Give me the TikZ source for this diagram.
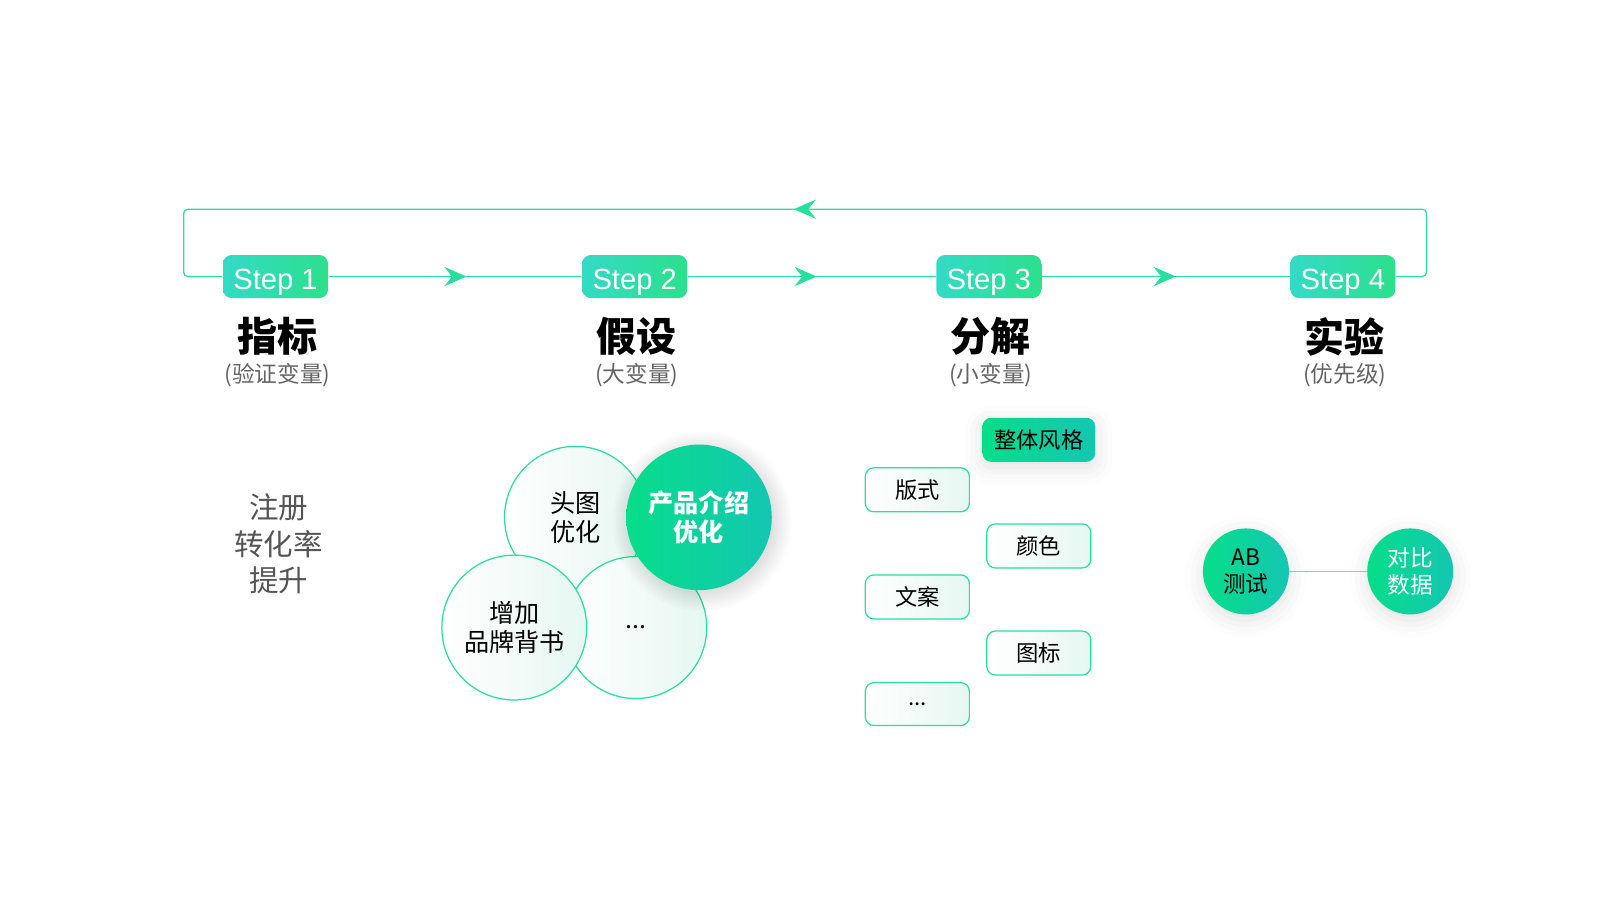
\documentclass[tikz,border=0pt]{standalone}
\usepackage{fontspec}
\setmainfont{Noto Sans CJK SC}
\newfontfamily\stepfont{Liberation Sans}
\usetikzlibrary{arrows.meta, decorations.markings, shadows.blur}

\definecolor{flowgreen}{RGB}{38,224,158}
\definecolor{stepteal}{RGB}{52,218,198}
\definecolor{stepgreen}{RGB}{44,224,140}
\definecolor{fillgreen}{RGB}{6,222,138}
\definecolor{fillteal}{RGB}{20,198,178}
\definecolor{paleteal}{RGB}{230,247,241}
\definecolor{subgray}{RGB}{100,100,100}
\definecolor{goalgray}{RGB}{85,85,85}

\tikzset{
    softshadow/.style={blur shadow={shadow xshift=0pt, shadow yshift=-1.5pt,
        shadow blur radius=5pt, shadow opacity=12}},
    midarrow/.style={postaction={decorate}, decoration={markings,
        mark=at position #1 with {\arrow{Stealth[length=6.3pt, width=5.5pt, inset=2.2pt]}}}},
    midarrow/.default=0.54
}

\begin{document}
\begin{tikzpicture}[x=0.10204mm, y=-0.10204mm,
    flow/.style={draw=flowgreen, line width=0.35pt, fill=flowgreen},
    stepbox/.style={rounded corners=2.45pt, minimum width=1.05cm, minimum height=0.43cm,
        left color=stepteal, right color=stepgreen, text=white, inner sep=0pt,
        text height=1.38ex, text depth=0pt,
        font=\stepfont\fontsize{8.3}{9}\selectfont},
    title/.style={font=\bfseries\fontsize{11.4}{13}\selectfont},
    subtitle/.style={text=subgray, font=\fontsize{6.45}{7}\selectfont},
    ocircle/.style={circle, draw=flowgreen, line width=0.35pt, minimum size=1.42cm,
        left color=white, right color=paleteal, align=center,
        font=\fontsize{7.15}{8.2}\selectfont},
    fcircle/.style={circle, minimum size=1.41cm, left color=fillgreen, right color=fillteal,
        text=white, align=center, font=\bfseries\fontsize{7.15}{8.2}\selectfont},
    obox/.style={rounded corners=2.45pt, draw=flowgreen, line width=0.35pt,
        minimum width=1.04cm, minimum height=0.43cm, left color=white, right color=paleteal,
        font=\fontsize{6.35}{7}\selectfont},
    fbox/.style={rounded corners=2.45pt, minimum width=1.04cm, minimum height=0.43cm,
        left color=fillgreen, right color=fillteal, font=\fontsize{6.35}{7}\selectfont, softshadow},
    fdot/.style={circle, minimum size=0.86cm, inner sep=0pt, left color=fillgreen,
        right color=fillteal, align=center, font=\fontsize{6.45}{7.6}\selectfont, softshadow}
]
    \useasboundingbox (0,0) rectangle (1568,882);

    % Steps, titles and subtitles
    \foreach \n/\x/\title/\sub in {1/270/指标/验证变量, 2/622/假设/大变量,
                                   3/969/分解/小变量, 4/1316/实验/优先级} {
        \node[stepbox] (s\n) at (\x, 271) {Step \n};
        \node[title] (t\n) at (\x+2, 330) {\title};
        \node[subtitle] (sub\n) at (\x+2, 368) {(\sub)};
    }

    % Flow between the steps
    \draw[flow, midarrow=0.545] (s1) -- (s2);
    \draw[flow, midarrow=0.52] (s2) -- (s3);
    \draw[flow, midarrow=0.54] (s3) -- (s4);

    % Loop back from step 4 to step 1
    \coordinate (rtop) at (1398, 205);
    \coordinate (ltop) at (180, 205);
    \draw[flow, fill=none, rounded corners=1.2pt, midarrow=0.505] (s4.east) -| (rtop) -- (ltop) |- (s1.west);

    % Step 1: goal
    \node[text=goalgray, align=center, font=\fontsize{8.4}{10.3}\selectfont] (goal) at (273, 533)
        {注册\\转化率\\提升};

    % Step 2: hypotheses
    \node[ocircle] (head) at (564, 507) {头图\\优化};
    \node[ocircle] (more) at (623, 615) {...};
    \node[ocircle] (brand) at (504, 615) {增加\\品牌背书};
    % soft glow under the filled circle
    \foreach \r in {70, 72, ..., 88} {
        \fill[black, opacity=0.012] (688, 511) circle (\r);
    }
    \node[fcircle] (intro) at (685, 507) {产品介绍\\优化};

    % Step 3: small variables
    \node[fbox] (style) at (1018, 431) {整体风格};
    \node[obox] (layout) at (899, 480) {版式};
    \node[obox] (color) at (1018, 535) {颜色};
    \node[obox] (copy) at (899, 585) {文案};
    \node[obox] (icon) at (1018, 640) {图标};
    \node[obox] (etc) at (899, 690) {...};

    % Step 4: experiment
    \draw[draw=flowgreen!70, line width=0.4pt] (1221, 560) -- (1382, 560);
    \node[fdot] (ab) at (1221, 560) {AB\\测试};
    \node[fdot, text=white] (cmp) at (1382, 560) {对比\\数据};
\end{tikzpicture}
\end{document}
